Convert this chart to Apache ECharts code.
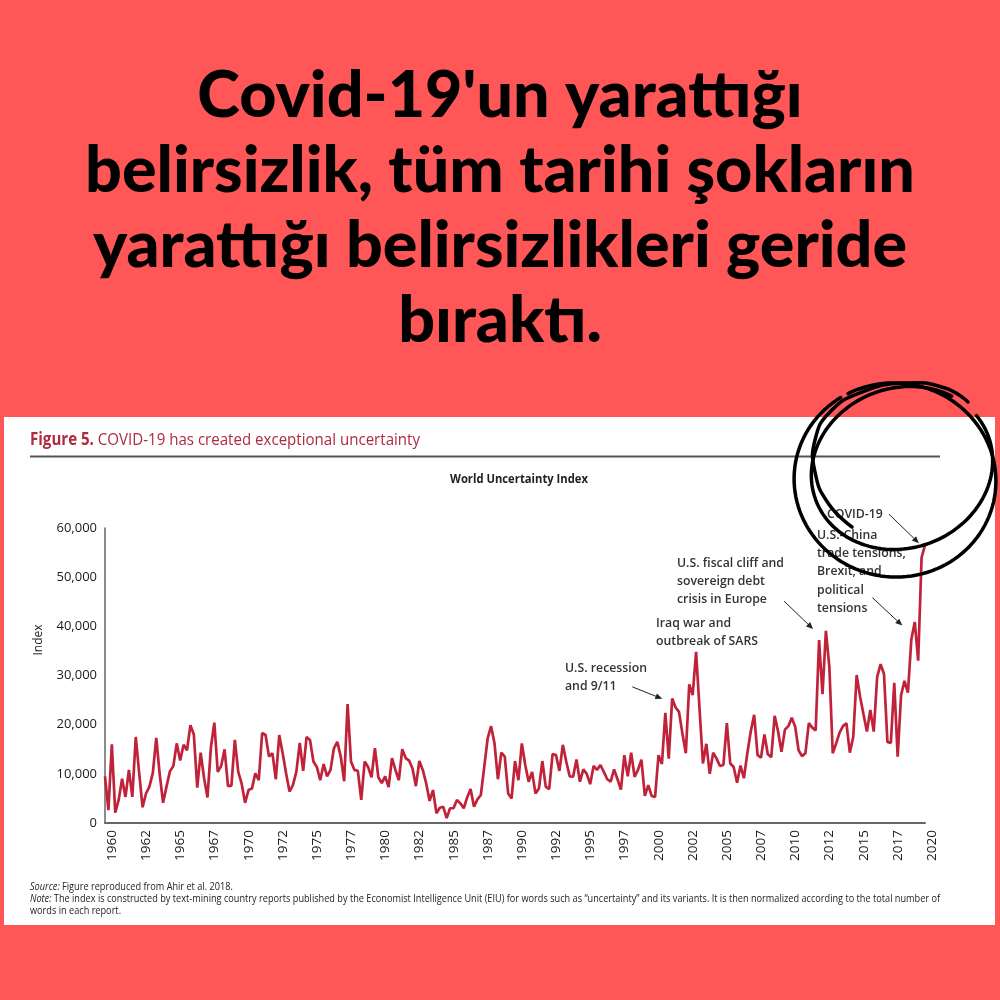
<!DOCTYPE html>
<html><head><meta charset="utf-8">
<script src="https://cdn.jsdelivr.net/npm/echarts@6/dist/echarts.min.js"></script>
<style>html,body{margin:0;padding:0;background:#FF5757}#c{width:1000px;height:1000px}</style>
</head><body><div id="c"></div>
<script>
// ---------- data ----------
const titleLines = ["Covid-19'un yarattığı", "belirsizlik, tüm tarihi şokların", "yarattığı belirsizlikleri geride", "bıraktı."];
const figureLabel = "Figure 5.";
const figureTitle = "COVID-19 has created exceptional uncertainty";
const chartTitle = "World Uncertainty Index";
const yAxisName = "Index";
const startYear = 1960;
// World Uncertainty Index, quarterly 1960Q1 - 2020Q1
const wuiValues = [
  9500, 2600, 16000, 2100, 4700, 9000, 5300, 10800, 5300, 17500,
  10200, 3200, 6000, 7400, 10200, 17300, 10000, 4100, 7400, 10500,
  11600, 16200, 12700, 15900, 14800, 19900, 18000, 7200, 14300, 9100,
  5200, 15400, 20400, 10400, 11600, 15000, 7500, 7600, 16900, 10400,
  8000, 4100, 6700, 7000, 10100, 8700, 18300, 17900, 13500, 14200,
  8900, 17900, 14200, 10100, 6400, 7700, 10400, 16300, 10600, 17500,
  16900, 12500, 11400, 8700, 12000, 9500, 10800, 15200, 16500, 13500,
  8500, 24200, 12500, 10800, 10600, 4700, 12500, 11400, 9300, 15200,
  9300, 8100, 9500, 7300, 13200, 10800, 8700, 15000, 13200, 12700,
  11100, 7500, 12600, 10800, 8100, 4500, 6700, 2000, 3100, 3300,
  1000, 3000, 3000, 4700, 4000, 3000, 5200, 6900, 3300, 4800,
  5700, 11400, 17200, 19700, 16200, 8900, 14300, 13500, 6000, 5000,
  12600, 8700, 16200, 11800, 8400, 10400, 6000, 7000, 12600, 7400,
  6900, 14000, 13800, 10600, 15900, 12500, 9500, 9400, 12900, 8400,
  10900, 10000, 7900, 11600, 10800, 11800, 10400, 8900, 8400, 10900,
  8900, 6800, 13800, 9500, 14300, 9400, 10800, 12900, 5500, 7700,
  5500, 5300, 13800, 12000, 22400, 13100, 25300, 23500, 22600, 18200,
  14200, 28200, 26000, 34800, 23300, 12100, 16100, 10000, 14300, 13100,
  11600, 11800, 20300, 12100, 11400, 8200, 11700, 9100, 14200, 18600,
  22000, 13800, 13300, 18000, 14000, 13400, 21800, 18600, 14500, 19000,
  19700, 21400, 19600, 14800, 13600, 14200, 20300, 19400, 18800, 37200,
  26200, 39100, 31800, 14200, 16200, 18400, 19700, 20300, 14300, 17500,
  30100, 25700, 22100, 18600, 23000, 18600, 29700, 32300, 30300, 16500,
  16300, 28500, 13500, 26000, 28900, 26500, 37300, 40900, 33000, 54000, 56500
];
const categories = wuiValues.map((_, i) => (startYear + Math.floor(i / 4)) + 'Q' + (i % 4 + 1));
const yTicks = [0, 10000, 20000, 30000, 40000, 50000, 60000];
const annotationTexts = [
  ['U.S. recession', 'and 9/11'],
  ['Iraq war and', 'outbreak of SARS'],
  ['U.S. fiscal cliff and', 'sovereign debt', 'crisis in Europe'],
  ['U.S.-China', 'trade tensions,', 'Brexit, and', 'political', 'tensions'],
  ['COVID-19']
];
const annotationAnchors = [164, null, 209, 236, 240];
const sourceText = "Figure reproduced from Ahir et al. 2018.";
const noteText1 = "The index is constructed by text-mining country reports published by the Economist Intelligence Unit (EIU) for words such as \u201cuncertainty\u201d and its variants. It is then normalized according to the total number of";
const noteText2 = "words in each report.";

// ---------- layout / style ----------
const RED = '#C0223A';
const HEAD_RED = '#AE2A40';
const annotationLayout = [
  {x: 565, y: 668, tip: [-3, -14], tail: [-30, -12]},
  {x: 656, y: 623},
  {x: 677, y: 563, tip: [-6, -11], tail: [-29, -28]},
  {x: 817, y: 535, tip: [-9, -14], tail: [-30, -28]},
  {x: 827, y: 514, tip: [-6, -2], tail: [-30, -29]}
];

const mctx = document.createElement('canvas').getContext('2d');
function tw(s, font) { mctx.font = font; return mctx.measureText(s).width; }

const chart = echarts.init(document.getElementById('c'), null, {renderer: 'canvas', width: 1000, height: 1000});

chart.setOption({
  backgroundColor: '#FF5757',
  animation: false,
  grid: {left: 105, right: 75, top: 528, bottom: 177, containLabel: false},
  xAxis: {
    type: 'category',
    data: categories,
    boundaryGap: false,
    axisLine: {lineStyle: {color: '#666', width: 2}},
    axisTick: {show: false},
    axisLabel: {
      interval: 9, rotate: 90, margin: 7, verticalAlign: 'top',
      color: '#1a1a1a', fontSize: 13.5, fontFamily: 'Open Sans',
      formatter: v => v.slice(0, 4)
    },
    splitLine: {show: false}
  },
  yAxis: {
    type: 'value', min: 0, max: 60000, interval: 10000,
    axisLine: {show: true, lineStyle: {color: '#666', width: 1.5}},
    axisTick: {show: false},
    splitLine: {show: false},
    axisLabel: {
      color: '#1a1a1a', fontSize: 13, fontFamily: 'Open Sans', margin: 8,
      formatter: v => yTicks.indexOf(v) >= 0 ? v.toLocaleString('en-US') : ''
    }
  },
  series: [{
    type: 'line', data: wuiValues, showSymbol: false, silent: true,
    lineStyle: {color: RED, width: 2.7}, itemStyle: {color: RED}
  }]
});

// ---------- decorations ----------
const els = [];
// white panel
els.push({type: 'rect', z: -10, shape: {x: 4, y: 417, width: 991, height: 508}, style: {fill: '#fff'}});

// big title
const tBase = 60;
const tFont = f => `900 ${f}px Lato`;
const tSize = tBase * 830 / tw(titleLines[1], tFont(tBase));
titleLines.forEach((t, i) => {
  els.push({type: 'text', x: 500, y: 96 + 75 * i, style: {
    text: t, fill: '#000', fontSize: tSize, fontWeight: 900, fontFamily: 'Lato',
    align: 'center', verticalAlign: 'middle'}});
});

// figure header
const hSize = 17;
const hW = tw(figureLabel + ' ', `bold ${hSize}px "Open Sans"`) + tw(figureTitle, `${hSize}px "Open Sans"`);
els.push({type: 'text', x: 30, y: 440, scaleX: 390 / hW, style: {
  text: '{b|' + figureLabel + '} ' + figureTitle, fill: HEAD_RED, fontSize: hSize, fontFamily: 'Open Sans',
  verticalAlign: 'middle',
  rich: {b: {fontWeight: 'bold', fontSize: hSize, fontFamily: 'Open Sans', fill: HEAD_RED, color: HEAD_RED}}}});
els.push({type: 'line', shape: {x1: 30, y1: 456.5, x2: 940, y2: 456.5}, style: {stroke: '#555', lineWidth: 2}});

// chart title
const ctW = tw(chartTitle, 'bold 13px "Open Sans"');
els.push({type: 'text', x: 519, y: 479, scaleX: 138 / ctW, style: {
  text: chartTitle, fill: '#222', fontSize: 13, fontWeight: 'bold', fontFamily: 'Open Sans',
  align: 'center', verticalAlign: 'middle'}});

// y axis name
els.push({type: 'text', x: 39, y: 640, rotation: Math.PI / 2, style: {
  text: yAxisName, fill: '#222', fontSize: 12, fontFamily: 'Open Sans', align: 'center', verticalAlign: 'middle'}});

// annotations
const aFont = '600 13px "Open Sans"';
const aScale = 107 / tw('U.S. fiscal cliff and', aFont);
annotationTexts.forEach((lines, k) => {
  const L = annotationLayout[k];
  lines.forEach((ln, j) => {
    els.push({type: 'text', x: L.x, y: L.y + 18.3 * j, scaleX: aScale, z: 5, style: {
      text: ln, fill: '#333', fontSize: 13, fontWeight: 600, fontFamily: 'Open Sans', verticalAlign: 'middle'}});
  });
  const idx = annotationAnchors[k];
  if (idx !== null && L.tip) {
    const p = chart.convertToPixel({gridIndex: 0}, [idx, wuiValues[idx]]);
    const tx = p[0] + L.tip[0], ty = p[1] + L.tip[1];
    const sx = tx + L.tail[0], sy = ty + L.tail[1];
    const ang = Math.atan2(ty - sy, tx - sx), h = 7, w = 3;
    els.push({type: 'line', z: 5, shape: {x1: sx, y1: sy, x2: tx - Math.cos(ang) * 4, y2: ty - Math.sin(ang) * 4}, style: {stroke: '#222', lineWidth: 1}});
    els.push({type: 'polygon', z: 5, shape: {points: [
      [tx, ty],
      [tx - h * Math.cos(ang) + w * Math.sin(ang), ty - h * Math.sin(ang) - w * Math.cos(ang)],
      [tx - h * Math.cos(ang) - w * Math.sin(ang), ty - h * Math.sin(ang) + w * Math.cos(ang)]
    ]}, style: {fill: '#222'}});
  }
});

// footer
const fSize = 10;
const fW = tw('Note: ', `italic ${fSize}px "Open Sans"`) + tw(noteText1, `${fSize}px "Open Sans"`);
const fScale = 910 / fW;
const fRich = {i: {fontStyle: 'italic', fontSize: fSize, fontFamily: 'Open Sans', fill: '#222', color: '#222'}};
[['{i|Source:} ' + sourceText, 887], ['{i|Note:} ' + noteText1, 899], [noteText2, 911]].forEach(([t, y]) => {
  els.push({type: 'text', x: 30, y: y, scaleX: fScale, style: {
    text: t, fill: '#222', fontSize: fSize, fontFamily: 'Open Sans', verticalAlign: 'middle', rich: fRich}});
});

// hand-drawn scribble (decoration)
function ellipsePts(cx, cy, rx, ry, rot, a0, a1, n) {
  const pts = [];
  for (let i = 0; i <= n; i++) {
    const a = a0 + (a1 - a0) * i / n;
    const x = rx * Math.cos(a), y = ry * Math.sin(a);
    pts.push([cx + x * Math.cos(rot) - y * Math.sin(rot), cy + x * Math.sin(rot) + y * Math.cos(rot)]);
  }
  return pts;
}
const scrib = {stroke: '#000', lineWidth: 3.5, fill: null, lineCap: 'round', lineJoin: 'round'};
els.push({type: 'polyline', z: 100, shape: {points: ellipsePts(895, 480, 101, 97, 0.15, -2.2, 4.0, 120)}, style: scrib});
els.push({type: 'polyline', z: 100, shape: {points: ellipsePts(902, 468, 92, 80, -0.35, -0.3, 5.6, 120)}, style: scrib});
els.push({type: 'polyline', z: 100, shape: {smooth: 0.5, points: [
  [852, 527], [828, 503], [815, 472], [815, 440], [830, 412], [862, 392], [905, 383], [945, 388], [968, 402]
]}, style: scrib});

chart.setOption({graphic: {elements: els}});
</script>
</body></html>
